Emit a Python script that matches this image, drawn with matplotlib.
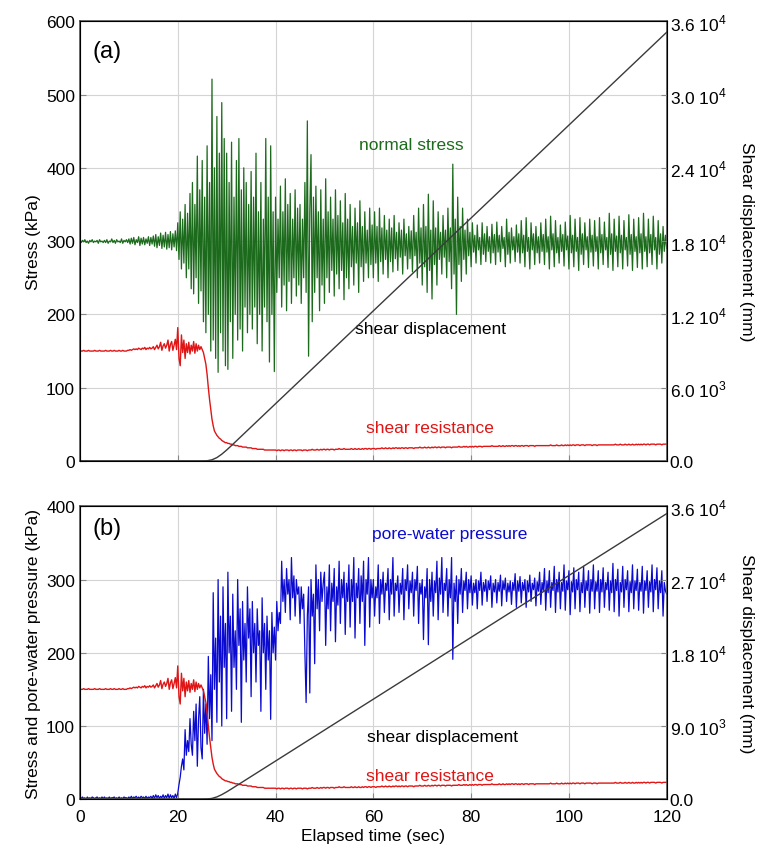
import numpy as np
import matplotlib.pyplot as plt

plt.rcParams['font.family'] = ['Liberation Sans', 'DejaVu Sans']
plt.rcParams['font.size'] = 12
plt.rcParams['mathtext.fontset'] = 'custom'
plt.rcParams['mathtext.rm'] = 'Liberation Sans'

# normal stress (kPa), panel (a), one value every 0.25 s
normal_stress = [
    300, 298, 301, 299, 302, 298, 300, 297, 301, 299, 302, 298, 300, 299, 301, 297, 302, 299, 300, 298,
    301, 298, 302, 297, 300, 299, 303, 298, 301, 297, 302, 299, 300, 298, 303, 297, 301, 299, 302, 298,
    303, 296, 304, 297, 305, 295, 302, 298, 306, 294, 304, 296, 305, 295, 303, 297, 306, 294, 305, 296,
    307, 293, 309, 291, 306, 294, 311, 290, 308, 292, 312, 289, 309, 291, 313, 288, 310, 292, 314, 287,
    325, 275, 340, 262, 330, 270, 350, 250, 338, 262, 365, 235, 380, 228, 350, 250, 416, 215, 370, 232,
    410, 190, 360, 175, 430, 200, 380, 150, 521, 165, 400, 140, 470, 121, 420, 175, 489, 150, 440, 130,
    420, 125, 380, 190, 435, 140, 360, 200, 410, 165, 440, 180, 370, 150, 400, 210, 380, 175, 350, 200,
    395, 180, 360, 210, 420, 160, 340, 200, 380, 150, 330, 210, 440, 190, 360, 135, 430, 200, 340, 122,
    360, 230, 330, 250, 375, 210, 340, 240, 385, 205, 350, 245, 365, 215, 330, 250, 370, 225, 345, 240,
    350, 215, 330, 250, 380, 230, 464, 143, 340, 418, 190, 360, 230, 375, 250, 340, 205, 370, 240, 330,
    215, 385, 250, 340, 230, 360, 260, 330, 225, 370, 255, 335, 235, 355, 260, 325, 220, 365, 250, 330,
    235, 350, 265, 320, 240, 345, 270, 325, 230, 355, 265, 320, 245, 340, 270, 315, 250, 345, 268, 322,
    250, 340, 270, 320, 245, 345, 272, 318, 255, 335, 275, 315, 250, 330, 272, 318, 258, 335, 276, 312,
    260, 325, 278, 315, 255, 330, 280, 310, 262, 320, 276, 314, 258, 335, 280, 312, 250, 345, 270, 318,
    240, 350, 265, 320, 230, 364, 260, 315, 221, 355, 268, 318, 240, 340, 275, 312, 255, 335, 278, 315,
    250, 345, 272, 318, 235, 405, 255, 330, 200, 360, 268, 320, 245, 345, 275, 315, 255, 330, 280, 312,
    265, 325, 285, 308, 270, 322, 288, 305, 268, 325, 282, 310, 272, 320, 286, 306, 270, 323, 284, 309,
    268, 326, 285, 308, 272, 320, 290, 305, 265, 330, 282, 312, 270, 318, 288, 306, 272, 322, 285, 310,
    270, 328, 284, 308, 265, 332, 286, 305, 262, 325, 288, 310, 268, 320, 284, 306, 270, 325, 286, 309,
    268, 330, 285, 306, 262, 334, 288, 310, 265, 328, 284, 305, 270, 322, 286, 309, 266, 326, 288, 307,
    262, 335, 284, 308, 265, 330, 286, 305, 260, 332, 282, 310, 268, 325, 288, 306, 264, 330, 285, 308,
    266, 328, 286, 306, 262, 332, 284, 309, 268, 326, 288, 305, 264, 338, 282, 310, 260, 330, 286, 307,
    265, 334, 284, 308, 262, 328, 288, 305, 266, 336, 282, 309, 260, 330, 286, 306, 264, 332, 284, 310,
    262, 338, 286, 306, 265, 330, 284, 309, 268, 334, 288, 305, 262, 328, 282, 310, 270, 320, 286, 308,
    290,
]

# pore-water pressure (kPa), panel (b), one value every 0.25 s
pore_pressure = [
    2, 1, 3, 1, 2, 0, 3, 1, 2, 1, 3, 2, 1, 2, 3, 1, 2, 1, 3, 1,
    3, 1, 2, 1, 3, 1, 2, 2, 3, 1, 2, 1, 3, 1, 2, 1, 3, 2, 2, 1,
    3, 1, 4, 1, 3, 2, 4, 1, 3, 1, 4, 2, 3, 1, 4, 1, 3, 2, 4, 1,
    5, 1, 6, 2, 5, 1, 4, 2, 6, 1, 5, 2, 7, 1, 6, 2, 5, 1, 7, 2,
    8, 20, 30, 45, 55, 40, 95, 60, 80, 65, 110, 75, 60, 120, 80, 130, 45, 110, 140, 70,
    55, 150, 90, 130, 75, 195, 110, 170, 80, 282, 150, 220, 105, 300, 160, 250, 100, 290, 180, 240,
    110, 310, 200, 250, 120, 280, 180, 230, 150, 300, 210, 260, 105, 270, 190, 240, 160, 290, 220, 260,
    140, 270, 200, 240, 160, 260, 210, 230, 120, 275, 200, 240, 150, 250, 190, 230, 109, 255, 200, 235,
    190, 270, 230, 255, 240, 325, 270, 300, 255, 315, 280, 300, 245, 330, 275, 305, 250, 300, 280, 290,
    240, 290, 260, 280, 200, 132, 250, 290, 145, 300, 250, 280, 185, 320, 260, 300, 230, 310, 270, 295,
    310, 210, 290, 260, 320, 230, 295, 270, 315, 215, 290, 265, 325, 240, 300, 275, 310, 225, 295, 270,
    320, 235, 300, 270, 330, 220, 295, 275, 315, 240, 305, 270, 325, 210, 300, 280, 330, 235, 300, 275,
    300, 250, 290, 275, 320, 240, 300, 280, 310, 255, 295, 285, 315, 245, 300, 280, 330, 250, 295, 285,
    305, 255, 295, 280, 315, 245, 300, 285, 320, 260, 298, 282, 310, 250, 300, 285, 318, 240, 295, 280,
    300, 218, 290, 275, 315, 211, 300, 270, 310, 250, 298, 282, 325, 245, 302, 280, 330, 255, 295, 285,
    315, 250, 300, 275, 330, 191, 295, 270, 305, 240, 300, 280, 315, 255, 298, 285, 310, 260, 300, 282,
    305, 265, 295, 282, 300, 260, 298, 285, 310, 265, 296, 284, 300, 270, 298, 286, 305, 262, 295, 283,
    300, 268, 296, 284, 306, 264, 298, 286, 302, 270, 295, 283, 298, 266, 296, 285, 308, 262, 298, 284,
    304, 268, 296, 285, 300, 262, 298, 283, 306, 270, 295, 286, 302, 264, 297, 284, 310, 266, 296, 285,
    315, 258, 298, 282, 312, 262, 296, 285, 318, 255, 300, 283, 310, 260, 296, 284, 320, 258, 298, 286,
    312, 252, 297, 283, 316, 260, 300, 286, 310, 256, 296, 282, 318, 262, 298, 285, 312, 254, 300, 284,
    320, 260, 297, 284, 312, 255, 300, 283, 316, 262, 296, 286, 310, 258, 298, 282, 322, 256, 300, 285,
    314, 250, 296, 283, 318, 262, 300, 286, 312, 256, 297, 282, 320, 260, 298, 285, 314, 258, 296, 284,
    318, 254, 298, 285, 312, 262, 297, 283, 320, 256, 300, 286, 316, 260, 298, 282, 312, 250, 296, 284,
    280,
]

# shear resistance (kPa), both panels, one value every 0.25 s
shear_resistance = [
    150, 150, 150, 151, 150, 150, 150, 151, 150, 150, 150, 150, 151, 150, 150, 150, 151, 150, 150, 150,
    150, 151, 150, 150, 150, 151, 150, 150, 151, 150, 150, 150, 151, 150, 150, 151, 150, 150, 150, 151,
    151, 152, 151, 152, 153, 152, 153, 152, 154, 153, 152, 154, 153, 155, 152, 154, 153, 155, 153, 154,
    156, 152, 155, 158, 153, 156, 162, 151, 157, 160, 154, 158, 165, 150, 159, 163, 151, 158, 166, 152,
    182, 140, 130, 172, 148, 165, 140, 160, 148, 162, 146, 158, 150, 163, 147, 160, 150, 158, 152, 156,
    152, 148, 140, 132, 118, 100, 84, 70, 57, 48, 41, 38, 35, 33, 31, 30, 28, 27, 26, 25,
    25, 24, 24, 23, 23, 22, 22, 21, 21, 21, 20, 20, 20, 19, 19, 19, 19, 18, 18, 18,
    18, 17, 17, 17, 17, 16, 16, 16, 16, 16, 16, 15, 15, 15, 15, 15, 15, 15, 15, 15,
    15, 14, 15, 15, 14, 15, 15, 14, 15, 15, 15, 14, 15, 15, 14, 15, 15, 14, 15, 15,
    15, 15, 14, 15, 15, 15, 14, 15, 15, 15, 16, 15, 15, 15, 16, 15, 15, 16, 15, 16,
    16, 15, 16, 16, 15, 16, 16, 16, 15, 16, 16, 16, 17, 16, 16, 16, 17, 16, 16, 16,
    16, 16, 17, 16, 16, 17, 16, 16, 17, 16, 16, 17, 16, 17, 17, 16, 17, 17, 16, 17,
    17, 17, 16, 17, 17, 17, 17, 18, 17, 17, 18, 17, 17, 18, 17, 17, 18, 17, 18, 18,
    17, 18, 17, 18, 18, 17, 18, 18, 17, 18, 18, 18, 18, 17, 18, 18, 18, 18, 19, 18,
    18, 18, 19, 18, 18, 19, 18, 18, 19, 18, 19, 19, 18, 19, 19, 18, 19, 19, 19, 18,
    19, 19, 19, 19, 18, 19, 19, 19, 19, 19, 20, 19, 19, 19, 20, 19, 20, 19, 19, 20,
    19, 20, 19, 20, 20, 19, 20, 20, 20, 19, 20, 20, 20, 20, 20, 20, 20, 21, 20, 20,
    20, 20, 20, 21, 20, 20, 21, 20, 20, 21, 20, 21, 20, 21, 21, 20, 21, 21, 20, 21,
    20, 21, 21, 20, 21, 21, 21, 20, 21, 21, 21, 21, 20, 21, 21, 21, 21, 21, 21, 21,
    21, 21, 21, 21, 21, 22, 21, 21, 21, 21, 22, 21, 21, 21, 22, 21, 21, 22, 21, 22,
    21, 22, 21, 22, 22, 21, 22, 22, 22, 21, 22, 22, 22, 21, 22, 22, 22, 22, 22, 21,
    22, 22, 22, 21, 22, 22, 22, 22, 22, 22, 22, 22, 22, 22, 22, 22, 22, 22, 23, 22,
    22, 22, 23, 22, 22, 22, 23, 22, 22, 23, 22, 22, 23, 22, 22, 23, 22, 23, 22, 23,
    22, 23, 23, 22, 23, 23, 22, 23, 23, 23, 23, 22, 23, 23, 23, 23, 22, 23, 23, 23,
    23,
]

assert len(normal_stress) == len(pore_pressure) == len(shear_resistance) == 481
t = np.arange(481) * 0.25  # elapsed time (sec)

# shear displacement (mm)
t_disp = [0, 25, 26, 27, 28, 29, 30, 31, 120]
shear_disp = [0, 0, 20, 100, 280, 560, 900, 1270, 35100]

top_ticks = [0, 6000, 12000, 18000, 24000, 30000, 36000]
top_labels = ['0.0', r'6.0 10$^3$', r'1.2 10$^4$', r'1.8 10$^4$',
              r'2.4 10$^4$', r'3.0 10$^4$', r'3.6 10$^4$']
bot_ticks = [0, 9000, 18000, 27000, 36000]
bot_labels = ['0.0', r'9.0 10$^3$', r'1.8 10$^4$', r'2.7 10$^4$', r'3.6 10$^4$']

GREEN = '#1c6b1c'
BLUE = '#0a0ad0'
RED = '#e01515'
GREY = '#3a3a3a'

fig = plt.figure(figsize=(7.69, 8.54), dpi=100)
ax1 = fig.add_axes([0.104, 0.459, 0.763, 0.515])
ax3 = fig.add_axes([0.104, 0.063, 0.763, 0.343])


def style(ax, ymax, ystep):
    ax.set_xlim(0, 120)
    ax.set_ylim(0, ymax)
    ax.set_xticks(range(0, 121, 20))
    ax.set_yticks(range(0, ymax + 1, ystep))
    ax.grid(True, color='#d4d4d4', lw=0.8)
    ax.set_axisbelow(True)
    ax.tick_params(direction='in', length=4, color='#888888', labelsize=12.5)
    ax.tick_params(axis='x', pad=7)
    for s in ax.spines.values():
        s.set_color('#555555')
        s.set_linewidth(1.2)


# panel (a)
style(ax1, 600, 100)
ax1.plot(t, normal_stress, color=GREEN, lw=0.9)
ax1.plot(t, shear_resistance, color=RED, lw=1.0)
ax1.set_xticklabels([])
ax1.set_ylabel('Stress (kPa)', fontsize=12.5)
ax2 = ax1.twinx()
ax2.plot(t_disp, shear_disp, color=GREY, lw=1.0)
ax2.set_ylim(0, 36000)
ax2.set_yticks(top_ticks)
ax2.set_yticklabels(top_labels)
ax2.tick_params(direction='in', length=4, color='#888888', labelsize=12.5, pad=2)
ax2.set_ylabel('Shear displacement (mm)', rotation=270, labelpad=20, fontsize=12.5)
ax1.text(2.5, 575, '(a)', fontsize=17, va='top')
ax1.text(67.7, 432, 'normal stress', color=GREEN, ha='center', va='center', fontsize=12.5)
ax1.text(71.6, 181, 'shear displacement', color='black', ha='center', va='center', fontsize=12.5)
ax1.text(71.6, 46, 'shear resistance', color=RED, ha='center', va='center', fontsize=12.5)

# panel (b)
style(ax3, 400, 100)
ax3.plot(t, pore_pressure, color=BLUE, lw=0.9)
ax3.plot(t, shear_resistance, color=RED, lw=1.0)
ax3.set_xlabel('Elapsed time (sec)', fontsize=12.5, labelpad=3)
ax3.set_ylabel('Stress and pore-water pressure (kPa)', fontsize=12.5)
ax4 = ax3.twinx()
ax4.plot(t_disp, shear_disp, color=GREY, lw=1.0)
ax4.set_ylim(0, 36000)
ax4.set_yticks(bot_ticks)
ax4.set_yticklabels(bot_labels)
ax4.tick_params(direction='in', length=4, color='#888888', labelsize=12.5, pad=2)
ax4.set_ylabel('Shear displacement (mm)', rotation=270, labelpad=20, fontsize=12.5)
ax3.text(2.5, 385, '(b)', fontsize=17, va='top')
ax3.text(75.7, 363, 'pore-water pressure', color=BLUE, ha='center', va='center', fontsize=12.5)
ax3.text(74.2, 85, 'shear displacement', color='black', ha='center', va='center', fontsize=12.5)
ax3.text(71.6, 33, 'shear resistance', color=RED, ha='center', va='center', fontsize=12.5)

fig.savefig('out.png', dpi=100)
